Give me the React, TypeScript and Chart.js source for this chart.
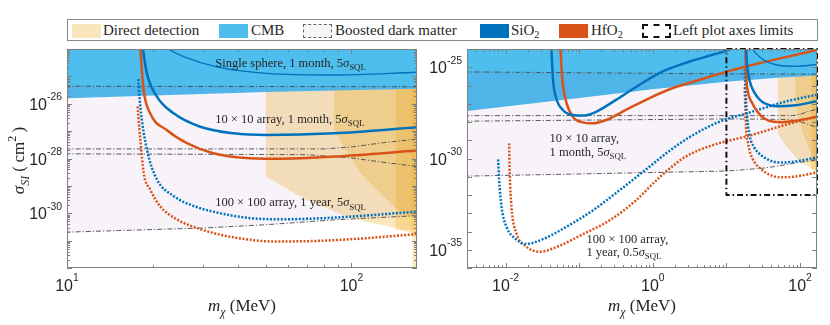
import React, { useEffect, useRef } from 'react';
import { Chart, registerables } from 'chart.js';
Chart.register(...registerables);

// Every point: [mass m_chi in MeV, log10(sigma_SI / cm^2)]
type Pt = [number, number];

// ---------- shaded constraint regions ----------
const cmbEdge: Pt[] = [[0.002, -27.48], [0.003, -27.4], [0.1, -26.68], [1, -26.2], [10, -25.8], [50, -25.57], [170, -25.45], [200, -25.43]];
const bdmTop: Pt[] = [[0.002, -25.25], [10, -25.36], [200, -25.38]];
const bdmMidA: Pt[] = [[0.002, -27.65], [80, -27.65], [100, -27.58], [130, -27.42], [200, -27.22]];
const bdmMidB: Pt[] = [[0.002, -27.96], [10, -27.83], [70, -27.86], [100, -27.98], [130, -28.14], [200, -28.38]];
const bdmLow: Pt[] = [[0.002, -30.98], [10, -30.69], [30, -30.54], [50, -30.42], [87, -30.24], [200, -30.05]];
const directDet1: Pt[] = [[50, -23], [50, -28.66], [66, -29.39], [99, -30.18], [143, -30.54], [164, -30.75], [164, -33], [200, -33], [200, -23]];
const directDet2: Pt[] = [[87, -23], [87, -26.96], [94, -27.57], [108, -28.54], [123, -29.15], [143, -29.81], [200, -30.6], [200, -23]];
const directDet3: Pt[] = [[143, -23], [143, -30.6], [200, -30.6], [200, -23]];
const directDet4: Pt[] = [[162, -23], [162, -30.85], [200, -30.85], [200, -23]];
const leftLimits: Pt[] = [[10, -24], [170, -24], [170, -32], [10, -32], [10, -24]];

// ---------- projected sensitivities (heavy mass range, 5 sigma_SQL) ----------
const sio2Sphere: Pt[] = [[20.5, -23.7], [22.7, -24.0], [25.7, -24.28], [33.6, -24.65], [50.5, -24.89], [86.7, -24.95], [170, -24.85]];
const sio2Array10: Pt[] = [[18.3, -23.5], [18.5, -24.0], [19.1, -24.89], [20.7, -25.74], [23.7, -26.35], [29.4, -26.84], [38.5, -27.08], [50.5, -27.14], [86.7, -27.08], [170, -26.86]];
const hfo2Array10: Pt[] = [[17.95, -23.5], [18.1, -24.0], [18.6, -25.5], [19.6, -26.35], [22.4, -26.96], [26.4, -27.44], [32.7, -27.81], [44, -27.99], [57.8, -28.01], [86.7, -27.93], [170, -27.71]];
const sio2Array100: Pt[] = [[17.8, -25.1], [18.1, -26.1], [19.1, -27.67], [20.7, -28.76], [23.7, -29.37], [27.8, -29.73], [33.6, -29.97], [44.1, -30.18], [57.8, -30.22], [86.7, -30.16], [170, -29.94]];
const hfo2Array100: Pt[] = [[17.7, -26.1], [18.1, -27.31], [18.6, -28.52], [19.6, -29.13], [21.2, -29.73], [24.3, -30.22], [29.4, -30.58], [38.5, -30.88], [53.3, -31.03], [75.7, -31.01], [113, -30.91], [170, -30.76]];

// ---------- projected sensitivities (light mass range) ----------
const sio2Low10: Pt[] = [[0.0405, -23.7], [0.0419, -24], [0.044, -25.61], [0.0489, -26.7], [0.06, -27.34], [0.082, -27.62], [0.112, -27.65], [0.17, -27.44], [0.316, -26.79], [0.653, -25.97], [1.35, -25.24], [3.1, -24.7], [6.38, -24.33], [10.7, -24.05], [13, -23.9]];
const hfo2Low10: Pt[] = [[0.055, -23.7], [0.0558, -24], [0.0589, -25.61], [0.0667, -26.89], [0.082, -27.71], [0.112, -28.02], [0.153, -28.07], [0.232, -27.89], [0.431, -27.34], [0.891, -26.7], [1.84, -26.15], [4.23, -25.7], [10.7, -25.21], [18, -24.97], [167, -24.05], [200, -23.97]];
const sio2Low100: Pt[] = [[0.00794, -30.05], [0.0082, -31.18], [0.00883, -32.64], [0.0103, -33.74], [0.0134, -34.37], [0.0192, -34.68], [0.0322, -34.42], [0.0667, -33.75], [0.153, -32.85], [0.351, -31.75], [0.8, -30.62], [1.66, -29.6], [3.1, -28.85], [7.87, -28.0], [22.2, -27.44], [62.7, -26.89], [170, -26.5]];
const hfo2Low100: Pt[] = [[0.0112, -29.17], [0.01143, -30.81], [0.01205, -32.64], [0.0141, -34.1], [0.0192, -34.83], [0.0291, -35.11], [0.0542, -34.78], [0.112, -34.15], [0.257, -33.4], [0.589, -32.3], [1.22, -31.05], [2.79, -29.9], [6.38, -29.28], [22.2, -28.71], [62.7, -28.16], [170, -27.71]];

// ---------- axes ----------
const leftXRange = [10, 170];
const leftYExp = [-32, -24];
const rightXRange = [0.003, 170];
const rightYExp = [-36, -24];
const leftXTickExp = [1, 2];
const leftYTickExp = [-30, -28, -26];
const rightXTickExp = [-2, 0, 2];
const rightYTickExp = [-35, -30, -25];

const BLUE = '#0072BD';
const ORANGE = '#D95319';
const CMB = '#4DBEEE';
const DD = 'rgba(237,177,32,0.3)';
const BDM = 'rgba(126,47,142,0.06)';
const DASHDOT = '#4a4a4a';
const TEXT = '#262626';
const AXIS = '#808080';
const SERIF = '"Liberation Serif", "DejaVu Serif", serif';
const SANS = '"Liberation Sans", Arial, sans-serif';

type Seg = { t: string; it?: boolean; sub?: boolean; sup?: boolean };
type Note = { m: number; e: number; segs: Seg[] };

const sig: Seg[] = [{ t: 'σ', it: true }, { t: 'SQL', sub: true }];
const leftNotes: Note[] = [
  { m: 33.2, e: -24.65, segs: [{ t: 'Single sphere, 1 month, 5' }, ...sig] },
  { m: 33.2, e: -26.7, segs: [{ t: '10 × 10 array, 1 month, 5' }, ...sig] },
  { m: 33.2, e: -29.74, segs: [{ t: '100 × 100 array, 1 year, 5' }, ...sig] },
];
const rightNotes: Note[] = [
  { m: 0.0397, e: -29.08, segs: [{ t: '10 × 10 array,' }] },
  { m: 0.0397, e: -29.85, segs: [{ t: '1 month, 5' }, ...sig] },
  { m: 0.1256, e: -34.63, segs: [{ t: '100 × 100 array,' }] },
  { m: 0.1256, e: -35.33, segs: [{ t: '1 year, 0.5' }, ...sig] },
];

const toXY = (arr: Pt[]) => arr.map(([m, e]) => ({ x: m, y: Math.pow(10, e) }));

function fillDs(pts: Pt[], color: string, order: number) {
  return {
    data: toXY(pts), fill: 'shape', backgroundColor: color, borderColor: 'rgba(0,0,0,0)',
    borderWidth: 0, pointRadius: 0, tension: 0, order,
  };
}
function lineDs(pts: Pt[], color: string, width: number, dash: number[], order: number, smooth: boolean) {
  return {
    data: toXY(pts), fill: false, borderColor: color, borderWidth: width, borderDash: dash,
    pointRadius: 0, tension: 0, cubicInterpolationMode: smooth ? 'monotone' : 'default',
    capBezierPoints: false, order, borderCapStyle: 'butt', borderJoinStyle: 'round',
  };
}

function drawRich(ctx: CanvasRenderingContext2D, segs: Seg[], x: number, y: number, size: number, fam: string,
  align: 'left' | 'center' | 'right', supRaise = 0.45, smallScale = 0.7) {
  const fonts = segs.map(s => `${s.it ? 'italic ' : ''}${(s.sub || s.sup ? size * smallScale : size).toFixed(1)}px ${fam}`);
  const widths = segs.map((s, i) => { ctx.font = fonts[i]; return ctx.measureText(s.t).width; });
  const total = widths.reduce((a, b) => a + b, 0);
  let cx = align === 'left' ? x : align === 'center' ? x - total / 2 : x - total;
  ctx.textAlign = 'left';
  ctx.textBaseline = 'alphabetic';
  segs.forEach((s, i) => {
    ctx.font = fonts[i];
    const dy = s.sub ? size * 0.28 : s.sup ? -size * supRaise : 0;
    ctx.fillText(s.t, cx, y + dy);
    cx += widths[i];
  });
}

type PanelCfg = {
  xTicks: number[]; yTicks: number[]; xMinor: boolean; yMinor: boolean; notes: Note[];
};

function decorPlugin(p: PanelCfg) {
  return {
    id: 'decor',
    afterDatasetsDraw(chart: any) {
      const ctx: CanvasRenderingContext2D = chart.ctx;
      const xs = chart.scales.x, ys = chart.scales.y;
      ctx.save();
      ctx.fillStyle = TEXT;
      p.notes.forEach(n => {
        drawRich(ctx, n.segs, xs.getPixelForValue(n.m), ys.getPixelForValue(Math.pow(10, n.e)), 12.5, SERIF, 'left');
      });
      ctx.restore();
    },
    afterDraw(chart: any) {
      const ctx: CanvasRenderingContext2D = chart.ctx;
      const xs = chart.scales.x, ys = chart.scales.y;
      const { left, right, top, bottom } = chart.chartArea;
      ctx.save();
      ctx.strokeStyle = AXIS;
      ctx.lineWidth = 1;
      ctx.strokeRect(Math.round(left) + 0.5, Math.round(top) + 0.5, Math.round(right - left) - 1, Math.round(bottom - top) - 1);
      const drawTicks = (scale: any, minor: boolean, horiz: boolean) => {
        const lo = Math.floor(Math.log10(scale.min)) - 1;
        const hi = Math.ceil(Math.log10(scale.max)) + 1;
        for (let e = lo; e <= hi; e++) {
          for (let k = 1; k <= 9; k++) {
            if (k > 1 && !minor) continue;
            const v = k * Math.pow(10, e);
            if (v < scale.min * 0.999 || v > scale.max * 1.001) continue;
            const px = Math.round(scale.getPixelForValue(v)) + 0.5;
            const len = k === 1 ? 5 : 3;
            ctx.beginPath();
            if (horiz) {
              ctx.moveTo(px, bottom); ctx.lineTo(px, bottom - len);
              ctx.moveTo(px, top); ctx.lineTo(px, top + len);
            } else {
              ctx.moveTo(left, px); ctx.lineTo(left + len, px);
              ctx.moveTo(right, px); ctx.lineTo(right - len, px);
            }
            ctx.stroke();
          }
        }
      };
      drawTicks(xs, p.xMinor, true);
      drawTicks(ys, p.yMinor, false);

      ctx.fillStyle = TEXT;
      p.xTicks.forEach(e => {
        const px = xs.getPixelForValue(Math.pow(10, e));
        drawRich(ctx, [{ t: '10' }, { t: String(e), sup: true }], px, bottom + 23, 16, SANS, 'center', 0.6, 0.65);
      });
      p.yTicks.forEach(e => {
        const py = ys.getPixelForValue(Math.pow(10, e));
        drawRich(ctx, [{ t: '10' }, { t: String(e), sup: true }], left - 5, py + 6, 16, SANS, 'right', 0.6, 0.65);
      });
      // x title
      drawRich(ctx, [{ t: 'm', it: true }, { t: 'χ', it: true, sub: true }, { t: ' (MeV)' }], (left + right) / 2, bottom + 43, 17, SERIF, 'center');
      ctx.restore();
    },
  };
}

function yTitlePlugin() {
  return {
    id: 'ytitle',
    afterDraw(chart: any) {
      const ctx: CanvasRenderingContext2D = chart.ctx;
      const { top, bottom } = chart.chartArea;
      ctx.save();
      ctx.fillStyle = TEXT;
      ctx.translate(18, (top + bottom) / 2 + 2);
      ctx.rotate(-Math.PI / 2);
      drawRich(ctx, [{ t: 'σ', it: true }, { t: 'SI', it: true, sub: true }, { t: ' (\u2009cm' }, { t: '2', sup: true }, { t: '\u2009)' }], 0, 6, 17, SERIF, 'center');
      ctx.restore();
    },
  };
}

function buildConfig(side: 'left' | 'right') {
  const isLeft = side === 'left';
  const datasets: any[] = [];
  // solid lines (top-most)
  datasets.push(lineDs(sio2Sphere, BLUE, 1.3, [], 1, true));
  datasets.push(lineDs(sio2Array10, BLUE, 2.5, [], 1, true));
  datasets.push(lineDs(hfo2Array10, ORANGE, 2.5, [], 1, true));
  datasets.push(lineDs(sio2Array100, BLUE, 2.5, [2, 1.6], 2, true));
  datasets.push(lineDs(hfo2Array100, ORANGE, 2.5, [2, 1.6], 2, true));
  if (!isLeft) {
    datasets.push({ ...lineDs(leftLimits, '#111111', 2, [6, 3, 1.5, 3], 0, false), clip: false });
    datasets.push(lineDs(sio2Low10, BLUE, 2.5, [], 1, true));
    datasets.push(lineDs(hfo2Low10, ORANGE, 2.5, [], 1, true));
    datasets.push(lineDs(sio2Low100, BLUE, 2.5, [2, 1.6], 2, true));
    datasets.push(lineDs(hfo2Low100, ORANGE, 2.5, [2, 1.6], 2, true));
  }
  [bdmTop, bdmMidA, bdmMidB, bdmLow].forEach(l => datasets.push(lineDs(l, DASHDOT, 0.9, [5, 2, 1.2, 2], 4, false)));
  datasets.push(fillDs([...bdmTop, ...[...bdmLow].reverse()], BDM, 5));
  datasets.push(fillDs([...cmbEdge, [200, -23], [0.002, -23]], CMB, 6));
  datasets.push(fillDs(directDet4, DD, 7));
  datasets.push(fillDs(directDet3, DD, 8));
  datasets.push(fillDs(directDet2, DD, 9));
  datasets.push(fillDs(directDet1, DD, 10));

  const xr = isLeft ? leftXRange : rightXRange;
  const yr = isLeft ? leftYExp : rightYExp;
  const plugins: any[] = [decorPlugin({
    xTicks: isLeft ? leftXTickExp : rightXTickExp,
    yTicks: isLeft ? leftYTickExp : rightYTickExp,
    xMinor: true, yMinor: isLeft,
    notes: isLeft ? leftNotes : rightNotes,
  })];
  if (isLeft) plugins.push(yTitlePlugin());
  return {
    type: 'line',
    data: { datasets },
    options: {
      animation: false,
      responsive: false,
      events: [],
      layout: { padding: isLeft ? { left: 67, right: 8, top: 49, bottom: 57 } : { left: 42, right: 13, top: 49, bottom: 57 } },
      plugins: { legend: { display: false }, tooltip: { enabled: false }, filler: { propagate: false } },
      scales: {
        x: { type: 'logarithmic', min: xr[0], max: xr[1], display: false },
        y: { type: 'logarithmic', min: Math.pow(10, yr[0]), max: Math.pow(10, yr[1]), display: false },
      },
    },
    plugins,
  } as any;
}

const legendItems = [
  { x: 71.7, tx: 103, label: <>Direct detection</>, sw: { background: '#FAE6BD' } },
  { x: 219, tx: 251, label: <>CMB</>, sw: { background: CMB } },
  { x: 303, tx: 335, label: <>Boosted dark matter</>, sw: { background: '#F8F5F9', border: '1px dashed #666', boxSizing: 'border-box' } },
  { x: 480, tx: 511, label: <>SiO<sub style={{ fontSize: '0.68em', verticalAlign: '-0.3em' }}>2</sub></>, sw: { background: BLUE } },
  { x: 559, tx: 591, label: <>HfO<sub style={{ fontSize: '0.68em', verticalAlign: '-0.3em' }}>2</sub></>, sw: { background: ORANGE } },
  { x: 641.7, tx: 673, label: <>Left plot axes limits</>, sw: { background: '#fff', border: '2px dashed #111', boxSizing: 'border-box' } },
];

export default function App() {
  const leftRef = useRef<HTMLCanvasElement>(null);
  const rightRef = useRef<HTMLCanvasElement>(null);
  useEffect(() => {
    const c1 = new Chart(leftRef.current as HTMLCanvasElement, buildConfig('left'));
    const c2 = new Chart(rightRef.current as HTMLCanvasElement, buildConfig('right'));
    return () => { c1.destroy(); c2.destroy(); };
  }, []);
  return (
    <div style={{ position: 'absolute', left: 0, top: 0, width: 830, height: 325, background: '#fff', overflow: 'hidden' }}>
      <canvas ref={leftRef} width={425} height={325} style={{ position: 'absolute', left: 0, top: 0, width: 425, height: 325 }} />
      <canvas ref={rightRef} width={405} height={325} style={{ position: 'absolute', left: 425, top: 0, width: 405, height: 325 }} />
      <div style={{ position: 'absolute', left: 66.5, top: 19, width: 751, height: 22, border: '1px solid #8a8a8a', background: '#fff', boxSizing: 'border-box' }} />
      {legendItems.map((it, i) => (
        <React.Fragment key={i}>
          <div style={{ position: 'absolute', left: it.x, top: 23.5, width: 29, height: 14, ...(it.sw as any) }} />
          <div style={{ position: 'absolute', left: it.tx, top: 21, height: 18, lineHeight: '18px', fontFamily: SERIF, fontSize: 15, color: TEXT, whiteSpace: 'nowrap' }}>{it.label}</div>
        </React.Fragment>
      ))}
    </div>
  );
}
